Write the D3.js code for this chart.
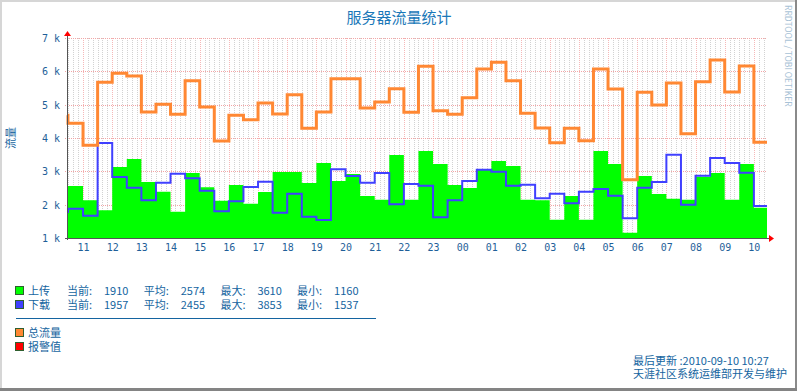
<!DOCTYPE html>
<html lang="zh">
<head>
<meta charset="utf-8">
<title>服务器流量统计</title>
<script src="https://d3js.org/d3.v7.min.js"></script>
<style type="text/css">
	body { margin: 0; background: #fff; }
	text { font-family: "Noto Sans CJK SC", sans-serif; }
	.tick-label { font-family: "DejaVu Sans Mono", monospace; font-size: 10px; fill: #1f5f99; }
	.legend text { font-size: 11px; fill: #1464a0; }
</style>
</head>
<body>
<script type="text/javascript">
// size of the picture and of the graph canvas
var w = 797;
var h = 391;
var plot = {left: 67, right: 767, top: 38, bottom: 238};

// start of each step ("day hour:minute"), the graph ends at endTime
var slotStart = ["09 10:27", "09 10:29", "09 11:00", "09 11:30", "09 12:00", "09 12:30", "09 13:00", "09 13:30",
	"09 14:00", "09 14:30", "09 15:00", "09 15:30", "09 16:00", "09 16:30", "09 17:00", "09 17:30",
	"09 18:00", "09 18:30", "09 19:00", "09 19:30", "09 20:00", "09 20:30", "09 21:00", "09 21:30",
	"09 22:00", "09 22:30", "09 23:00", "09 23:30", "10 00:00", "10 00:30", "10 01:00", "10 01:30",
	"10 02:00", "10 02:30", "10 03:00", "10 03:30", "10 04:00", "10 04:30", "10 05:00", "10 05:30",
	"10 06:00", "10 06:30", "10 07:00", "10 07:30", "10 08:00", "10 08:30", "10 09:00", "10 09:30",
	"10 10:00"];
var endTime = "10 10:27";

// traffic per step
var upload = [2920, 2560, 2130, 1830, 3130, 3370, 2680, 2390, 1790,
	2950, 2520, 2120, 2590, 2030, 2380, 2980, 2980, 2650,
	3250, 2710, 2920, 2260, 2150, 3490, 2150, 3610,
	3220, 2590, 2500, 3040, 3310, 3160, 2150, 2130,
	1550, 2260, 1550, 3610, 3220, 1160, 2860, 2320,
	2180, 2150, 2840, 2950, 2150, 3220, 1910];
var download = [1780, 1880, 1670, 3853, 2830, 2510, 2130, 2660, 2930,
	2790, 2420, 1800, 2100, 2530, 2690, 1760, 2330, 1640,
	1537, 3060, 2860, 2660, 2950, 2010, 2620, 2570,
	1620, 2130, 2710, 3050, 2990, 2570, 2600, 2190,
	2330, 2040, 2390, 2470, 2270, 1590, 2510, 2680,
	3500, 2000, 2870, 3400, 3250, 2960, 1957];
var total = [4680, 4440, 3780, 5670, 5940, 5860, 4780, 5010, 4710,
	5720, 4930, 3910, 4680, 4550, 5050, 4720, 5300, 4290,
	4780, 5780, 5780, 4900, 5080, 5480, 4770, 6150,
	4820, 4710, 5210, 6070, 6270, 5720, 4740, 4300,
	3860, 4290, 3920, 6070, 5470, 2750, 5370, 4990,
	5650, 4130, 5690, 6340, 5380, 6160, 3870];

var yTicks = [1000, 2000, 3000, 4000, 5000, 6000, 7000];

// legend
var statLabels = ["当前:", "平均:", "最大:", "最小:"];
var uploadStats = [1910, 2574, 3610, 1160];
var downloadStats = [1957, 2455, 3853, 1537];
var otherNames = ["总流量", "报警值"];

var colors = {
	up: "#00ff00",
	down: "#4040ff",
	total: "#ff8833",
	alarm: "#ff0000"
};

var parseTime = d3.timeParse("%d %H:%M");
var times = slotStart.map(parseTime);
var tEnd = parseTime(endTime);

var xScale = d3.scaleTime()
	.domain([times[0], tEnd])
	.range([plot.left, plot.right]);

var yScale = d3.scaleLinear()
	.domain([1000, 7000])
	.range([plot.bottom, plot.top]);

function points(values) {
	var pts = values.map(function(v, i) { return {t: times[i], v: v}; });
	pts.push({t: tEnd, v: values[values.length - 1]});
	return pts;
}

var svg = d3.select("body")
	.append("svg")
	.attr("width", w)
	.attr("height", h);

svg.append("rect")
	.attr("width", w)
	.attr("height", h)
	.attr("fill", "#fff");

// 3d frame
svg.append("rect").attr("x", 0).attr("y", 0).attr("width", w).attr("height", 2).attr("fill", "#d6d6d6");
svg.append("rect").attr("x", 0).attr("y", 0).attr("width", 2).attr("height", h).attr("fill", "#d6d6d6");
svg.append("rect").attr("x", w - 2).attr("y", 0).attr("width", 2).attr("height", h).attr("fill", "#8a8a8a");
svg.append("rect").attr("x", 0).attr("y", h - 3).attr("width", w).attr("height", 3).attr("fill", "#848484");

// grid
var grid = svg.append("g").attr("shape-rendering", "crispEdges");

grid.selectAll("line.minor")
	.data(xScale.ticks(d3.timeMinute.every(10)).filter(function(d) { return d.getMinutes() !== 0; }))
	.enter()
	.append("line")
	.attr("x1", function(d) { return Math.round(xScale(d)) + 0.5; })
	.attr("x2", function(d) { return Math.round(xScale(d)) + 0.5; })
	.attr("y1", plot.top)
	.attr("y2", plot.bottom)
	.attr("stroke", "#d2d2d2")
	.attr("stroke-dasharray", "1,1");

grid.selectAll("line.major")
	.data(xScale.ticks(d3.timeHour.every(1)))
	.enter()
	.append("line")
	.attr("x1", function(d) { return Math.round(xScale(d)) + 0.5; })
	.attr("x2", function(d) { return Math.round(xScale(d)) + 0.5; })
	.attr("y1", plot.top)
	.attr("y2", plot.bottom)
	.attr("stroke", "#f5b8b8")
	.attr("stroke-dasharray", "1,1");

grid.selectAll("line.hgrid")
	.data(yTicks)
	.enter()
	.append("line")
	.attr("x1", plot.left - 2)
	.attr("x2", plot.right)
	.attr("y1", function(d) { return Math.round(yScale(d)) + 0.5; })
	.attr("y2", function(d) { return Math.round(yScale(d)) + 0.5; })
	.attr("stroke", "#f2a6a6")
	.attr("stroke-dasharray", "1,1");

// upload area
var area = d3.area()
	.curve(d3.curveStepAfter)
	.x(function(d) { return xScale(d.t); })
	.y0(yScale(1000))
	.y1(function(d) { return yScale(d.v); });

svg.append("path")
	.datum(points(upload))
	.attr("d", area)
	.attr("fill", colors.up);

var line = d3.line()
	.curve(d3.curveStepAfter)
	.x(function(d) { return xScale(d.t); })
	.y(function(d) { return yScale(d.v); });

svg.append("path")
	.datum(points(download))
	.attr("d", line)
	.attr("fill", "none")
	.attr("stroke", colors.down)
	.attr("stroke-width", 2);

svg.append("path")
	.datum(points(total))
	.attr("d", line)
	.attr("fill", "none")
	.attr("stroke", colors.total)
	.attr("stroke-width", 3);

// axes
svg.append("line")
	.attr("x1", plot.left + 0.5).attr("x2", plot.left + 0.5)
	.attr("y1", plot.bottom + 2).attr("y2", plot.top - 4)
	.attr("stroke", "#555");
svg.append("line")
	.attr("x1", plot.left - 2).attr("x2", plot.right + 3)
	.attr("y1", plot.bottom + 0.5).attr("y2", plot.bottom + 0.5)
	.attr("stroke", "#555");
svg.append("path")
	.attr("d", "M" + (plot.left + 0.5) + "," + (plot.top - 7) + "l3.5,5h-7z")
	.attr("fill", colors.alarm);
svg.append("path")
	.attr("d", "M" + (plot.right + 7) + "," + (plot.bottom + 0.5) + "l-5,-3.5v7z")
	.attr("fill", colors.alarm);

// tick labels
svg.selectAll("text.ylab")
	.data(yTicks)
	.enter()
	.append("text")
	.attr("class", "tick-label")
	.attr("x", plot.left - 7)
	.attr("y", function(d) { return yScale(d) + 4; })
	.attr("text-anchor", "end")
	.text(function(d) { return (d / 1000) + " k"; });

svg.selectAll("text.xlab")
	.data(xScale.ticks(d3.timeHour.every(1)))
	.enter()
	.append("text")
	.attr("class", "tick-label")
	.attr("x", function(d) { return xScale(d) + 0.5; })
	.attr("y", plot.bottom + 13)
	.attr("text-anchor", "middle")
	.text(d3.timeFormat("%H"));

// title, vertical label, watermark
svg.append("text")
	.attr("x", 399)
	.attr("y", 23)
	.attr("text-anchor", "middle")
	.attr("font-size", "15px")
	.attr("fill", "#1a78b8")
	.text("服务器流量统计");

svg.append("text")
	.attr("transform", "translate(15," + ((plot.top + plot.bottom) / 2) + ") rotate(-90)")
	.attr("text-anchor", "middle")
	.attr("font-size", "11px")
	.attr("fill", "#1464a0")
	.text("流量");

svg.append("text")
	.attr("transform", "translate(784.5,5) rotate(90)")
	.attr("font-family", "DejaVu Sans Mono, monospace")
	.attr("font-size", "8.5px")
	.attr("fill", "#a8c2d6")
	.text("RRDTOOL / TOBI OETIKER");

// legend
var legend = svg.append("g").attr("class", "legend");

[["上传", colors.up, uploadStats], ["下载", colors.down, downloadStats]].forEach(function(row, r) {
	var y = 295 + r * 14;
	legend.append("rect")
		.attr("x", 15.5).attr("y", y - 8.5)
		.attr("width", 8).attr("height", 8)
		.attr("fill", row[1])
		.attr("stroke", "#2f5f2f");
	legend.append("text").attr("x", 28).attr("y", y).text(row[0]);
	statLabels.forEach(function(lab, i) {
		legend.append("text").attr("x", 67 + i * 76.7).attr("y", y).text(lab);
		legend.append("text").attr("x", 104 + i * 76.7).attr("y", y).text(row[2][i]);
	});
});

legend.append("line")
	.attr("x1", 16).attr("x2", 376)
	.attr("y1", 318.5).attr("y2", 318.5)
	.attr("stroke", "#1464a0");

[colors.total, colors.alarm].forEach(function(c, r) {
	var y = 337 + r * 14;
	legend.append("rect")
		.attr("x", 15.5).attr("y", y - 8.5)
		.attr("width", 8).attr("height", 8)
		.attr("fill", c)
		.attr("stroke", "#2f5f2f");
	legend.append("text").attr("x", 28).attr("y", y).text(otherNames[r]);
});

legend.append("text").attr("x", 633).attr("y", 365).text("最后更新 :2010-09-10 10:27");
legend.append("text").attr("x", 633).attr("y", 378).text("天涯社区系统运维部开发与维护");
</script>
</body>
</html>
